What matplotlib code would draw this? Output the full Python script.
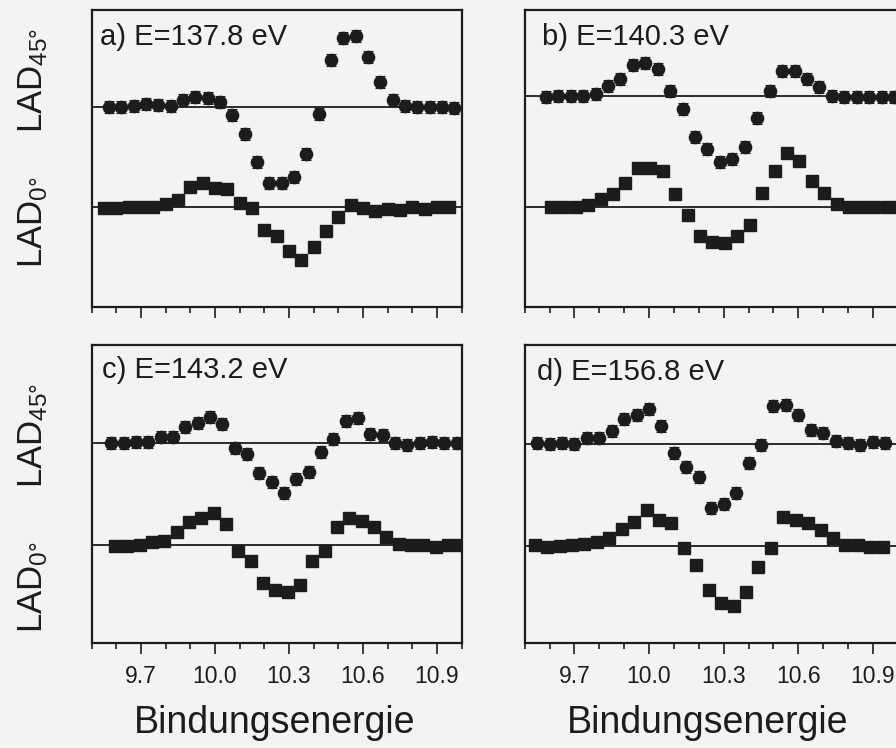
import matplotlib
matplotlib.use("Agg")
import matplotlib.pyplot as plt

plt.rcParams['font.family'] = ['Liberation Sans', 'DejaVu Sans']
plt.rcParams['mathtext.fontset'] = 'custom'
plt.rcParams['mathtext.rm'] = 'Liberation Sans'
plt.rcParams['mathtext.it'] = 'Liberation Sans'

# ---------------- data ----------------
energy = [9.575, 9.625, 9.675, 9.725, 9.775, 9.825, 9.875, 9.925, 9.975, 10.025,
          10.075, 10.125, 10.175, 10.225, 10.275, 10.325, 10.375, 10.425, 10.475,
          10.525, 10.575, 10.625, 10.675, 10.725, 10.775, 10.825, 10.875, 10.925, 10.975]

panel_titles = ["a) E=137.8 eV", "b) E=140.3 eV", "c) E=143.2 eV", "d) E=156.8 eV"]

lad45_a = [0, 0, 0.013, 0.033, 0.02, 0.013, 0.073, 0.1, 0.09, 0.057, -0.077, -0.27,
           -0.543, -0.753, -0.76, -0.693, -0.467, -0.067, 0.473, 0.69, 0.713, 0.5,
           0.257, 0.073, 0.013, 0, 0, 0, -0.01]
lad0_a = [-0.01, -0.01, 0, 0, 0, 0.033, 0.073, 0.2, 0.24, 0.19, 0.183, 0.047, -0.01,
          -0.227, -0.287, -0.433, -0.527, -0.4, -0.237, -0.1, 0.023, -0.01, -0.033,
          -0.02, -0.027, 0, -0.02, 0.007, 0.007]

lad45_b = [-0.01, 0, 0, 0, 0.017, 0.097, 0.163, 0.307, 0.323, 0.267, 0.05, -0.133,
           -0.41, -0.537, -0.66, -0.637, -0.51, -0.227, 0.05, 0.25, 0.247, 0.163,
           0.083, 0, -0.01, -0.01, -0.01, -0.01, -0.01]
lad0_b = [0, 0, 0.007, 0.023, 0.083, 0.133, 0.24, 0.39, 0.39, 0.367, 0.133, -0.077,
          -0.287, -0.343, -0.36, -0.287, -0.177, 0.14, 0.363, 0.547, 0.467, 0.267,
          0.14, 0.033, 0.007, 0, 0, 0, 0]

lad45_c = [0, 0, 0.01, 0.01, 0.06, 0.06, 0.167, 0.2, 0.267, 0.193, -0.05, -0.107,
           -0.293, -0.383, -0.5, -0.36, -0.283, -0.09, 0.043, 0.227, 0.257, 0.09,
           0.083, 0, -0.017, 0, 0.01, 0, 0]
lad0_c = [-0.01, -0.01, 0, 0.033, 0.043, 0.133, 0.233, 0.267, 0.317, 0.207, -0.06,
          -0.16, -0.383, -0.45, -0.473, -0.4, -0.16, -0.057, 0.183, 0.267, 0.243,
          0.177, 0.083, 0.007, 0, 0, -0.017, 0, 0]

lad45_d = [0.007, 0, 0.007, 0, 0.057, 0.057, 0.133, 0.247, 0.29, 0.347, 0.18, -0.087,
           -0.227, -0.333, -0.637, -0.6, -0.487, -0.193, -0.01, 0.38, 0.39, 0.29,
           0.14, 0.107, 0.033, 0.007, -0.01, 0.023, 0.007]
lad0_d = [0.007, -0.01, 0, 0.007, 0.013, 0.04, 0.073, 0.167, 0.24, 0.357, 0.257, 0.23,
          -0.027, -0.193, -0.443, -0.577, -0.603, -0.46, -0.21, -0.027, 0.283, 0.257,
          0.223, 0.157, 0.073, 0.007, 0.007, -0.01, -0.01]

lad45_sets = [lad45_a, lad45_b, lad45_c, lad45_d]
lad0_sets = [lad0_a, lad0_b, lad0_c, lad0_d]

xtick_major = [9.7, 10.0, 10.3, 10.6, 10.9]
xtick_labels = ["9.7", "10.0", "10.3", "10.6", "10.9"]
xtick_minor = [9.5, 9.6, 9.8, 9.9, 10.1, 10.2, 10.4, 10.5, 10.7, 10.8, 11.0]
xlabel_text = "Bindungsenergie"

# ---------------- layout / style ----------------
W, H = 896, 748
bg = '#f3f3f3'
ink = '#1c1c1c'

fig = plt.figure(figsize=(W / 100, H / 100), dpi=100, facecolor=bg)

# axes rectangles in pixels: left, top, width, height
rects = [(91.7, 10, 370, 296.7), (524.7, 10, 373, 296.7),
         (91.7, 345, 370, 298), (524.7, 345, 373, 298)]
ylims = [(-0.994, 1.973), (-0.994, 1.973), (-0.98, 2.0), (-0.973, 2.007)]
base45 = [1.0, 1.116, 1.017, 1.017]
shift_c = [-0.005, 0.01, 0.005, -0.025]
shift_s = [-0.025, 0.03, 0.02, -0.035]
title_pos = [(0.022, 0.882), (0.046, 0.882), (0.028, 0.889), (0.033, 0.883)]

for i in range(4):
    l, t, w, h = rects[i]
    ax = fig.add_axes([l / W, 1 - (t + h) / H, w / W, h / H])
    ax.set_facecolor(bg)
    ax.set_xlim(9.5, 11.0)
    ax.set_ylim(*ylims[i])
    ax.axhline(base45[i], color=ink, lw=1.3, zorder=1)
    ax.axhline(0, color=ink, lw=1.3, zorder=1)

    xc = [e + shift_c[i] for e in energy]
    xs = [e + shift_s[i] for e in energy]
    yc = [v + base45[i] for v in lad45_sets[i]]
    ax.errorbar(xc, yc, yerr=0.06, fmt='o', ms=8.8, color=ink, mec=ink,
                ecolor=ink, elinewidth=0.8, capsize=3.5, capthick=0.8, zorder=3)
    ax.plot(xs, lad0_sets[i], 's', ms=9, color=ink, mec=ink, zorder=3)

    ax.text(title_pos[i][0], title_pos[i][1], panel_titles[i], transform=ax.transAxes,
            fontsize=21, color=ink, va='baseline', ha='left')

    for s in ax.spines.values():
        s.set_linewidth(1.6)
        s.set_color(ink)
    ax.set_yticks([])
    ax.set_xticks(xtick_major)
    ax.set_xticks(xtick_minor, minor=True)
    if i >= 2:
        ax.set_xticklabels(xtick_labels)
    else:
        ax.set_xticklabels([])
    ax.tick_params(axis='x', which='major', direction='out', length=8, width=1.2,
                   colors=ink, labelsize=16.5, pad=8)
    ax.tick_params(axis='x', which='minor', direction='out', length=4, width=1.2,
                   colors=ink)
    ax.tick_params(top=False)

# y labels (rotated)
ylab_pos = [(80, 222), (435, 587)]
for up, lo in ylab_pos:
    fig.text(33 / W, 1 - up / H, r'LAD$_{\mathregular{45°}}$', rotation=90,
             ha='center', va='center', fontsize=25, color=ink)
    fig.text(33 / W, 1 - lo / H, r'LAD$_{\mathregular{0°}}$', rotation=90,
             ha='center', va='center', fontsize=25, color=ink)

fig.text(275 / W, 1 - 733 / H, xlabel_text, ha='center', va='baseline',
         fontsize=27, color=ink)
fig.text(708 / W, 1 - 733 / H, xlabel_text, ha='center', va='baseline',
         fontsize=27, color=ink)

fig.savefig('out.png', dpi=100, facecolor=bg)
